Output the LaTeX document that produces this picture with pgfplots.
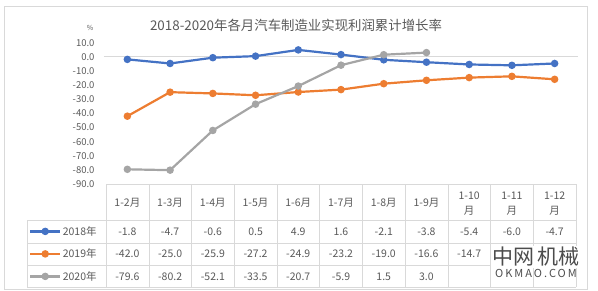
\documentclass[border=0pt]{standalone}
\usepackage{pgfplots}
\pgfplotsset{compat=1.18}
\usepackage{fontspec}
\setmainfont{Noto Sans CJK SC}
\definecolor{c18}{HTML}{4472C4}
\definecolor{c19}{HTML}{ED7D31}
\definecolor{c20}{HTML}{A5A5A5}
\definecolor{txt}{HTML}{595959}
\definecolor{gridc}{HTML}{D9D9D9}
\begin{document}
\begin{tikzpicture}
\begin{scope}[x=1pt,y=-1pt]
\useasboundingbox (0,0) rectangle (598,290);
\draw[gridc, line width=0.8pt] (4,6) rectangle (587,289);
\node[text=txt, font=\fontsize{13.4}{13.4}\selectfont] at (296,25) {2018-2020年各月汽车制造业实现利润累计增长率};
\node[text=txt, font=\fontsize{7}{7}\selectfont] at (90,28) {\%};
% table grid
\foreach \i in {0,...,11} {\draw[gridc] ({106+42.727*\i},184) -- ({106+42.727*\i},287);}
\draw[gridc] (106,184) -- (576,184);
\foreach \yy in {220,242.7,265,287} {\draw[gridc] (27,\yy) -- (576,\yy);}
\draw[gridc] (27,220) -- (27,287);
% header
\foreach \lab [count=\i from 0] in {1-2月,1-3月,1-4月,1-5月,1-6月,1-7月,1-8月,1-9月}
  {\node[text=txt, font=\fontsize{10.5}{10.5}\selectfont] at ({127.36+42.727*\i},203) {\lab};}
\foreach \lab [count=\i from 8] in {1-10,1-11,1-12}
  {\node[text=txt, font=\fontsize{10.5}{15}\selectfont, align=center] at ({127.36+42.727*\i},204) {\lab\\月};}
% values
\foreach \v [count=\i from 0] in {-1.8,-4.7,-0.6,0.5,4.9,1.6,-2.1,-3.8,-5.4,-6.0,-4.7}
  {\node[text=txt, font=\fontsize{10.5}{10.5}\selectfont] at ({127.36+42.727*\i},231.5) {\v};}
\foreach \v [count=\i from 0] in {-42.0,-25.0,-25.9,-27.2,-24.9,-23.2,-19.0,-16.6,-14.7}
  {\node[text=txt, font=\fontsize{10.5}{10.5}\selectfont] at ({127.36+42.727*\i},254) {\v};}
\foreach \v [count=\i from 0] in {-79.6,-80.2,-52.1,-33.5,-20.7,-5.9,1.5,3.0}
  {\node[text=txt, font=\fontsize{10.5}{10.5}\selectfont] at ({127.36+42.727*\i},276.5) {\v};}
\end{scope}
\begin{axis}[
  at={(106pt,-184pt)}, anchor=south west,
  scale only axis, width=470pt, height=141.3pt,
  xmin=-0.5, xmax=10.5, ymin=-90, ymax=10,
  axis line style={draw=none},
  xtick=\empty,
  ytick={-90,-80,...,10},
  major tick length=0pt,
  yticklabel style={font=\fontsize{9.5}{9.5}\selectfont, text=txt, xshift=-8pt,
    /pgf/number format/.cd, fixed, fixed zerofill, precision=1, assume math mode=true},
  clip=false,
  every axis plot/.append style={line width=2.2pt, mark=*, mark size=2.6pt},
  legend style={at={(axis description cs:-0.164,-0.2544)}, anchor=north west,
    draw=none, fill=none, inner sep=0pt, row sep=0pt,
    font=\fontsize{10.5}{10.5}\selectfont, text=txt,
    nodes={minimum height=22.5pt, inner sep=1.5pt, anchor=west}},
  legend cell align=left,
  legend image code/.code={\draw[mark repeat=2, mark phase=2, line width=2.2pt] plot coordinates {(0pt,0pt) (15pt,0pt) (30pt,0pt)};},
]
\draw[gridc, line width=0.8pt] (axis cs:-0.55,0) -- (axis cs:10.55,0);
\addplot[c18, mark options={fill=c18}] coordinates {(0,-1.8)(1,-4.7)(2,-0.6)(3,0.5)(4,4.9)(5,1.6)(6,-2.1)(7,-3.8)(8,-5.4)(9,-6.0)(10,-4.7)};
\addlegendentry{2018年}
\addplot[c19, mark options={fill=c19}] coordinates {(0,-42.0)(1,-25.0)(2,-25.9)(3,-27.2)(4,-24.9)(5,-23.2)(6,-19.0)(7,-16.6)(8,-14.7)(9,-13.8)(10,-15.9)};
\addlegendentry{2019年}
\addplot[c20, mark options={fill=c20}] coordinates {(0,-79.6)(1,-80.2)(2,-52.1)(3,-33.5)(4,-20.7)(5,-5.9)(6,1.5)(7,3.0)};
\addlegendentry{2020年}
\end{axis}
\begin{scope}[x=1pt,y=-1pt]
\node[fill=white, inner sep=1pt, text=black!70, font=\fontsize{21}{21}\selectfont] at (536,257) {中网\hspace{4pt}机械};
\node[text=black!70, font=\fontsize{11}{11}\selectfont\addfontfeatures{LetterSpace=18}] at (536,273) {OKMAO.COM};
\end{scope}
\end{tikzpicture}
\end{document}
